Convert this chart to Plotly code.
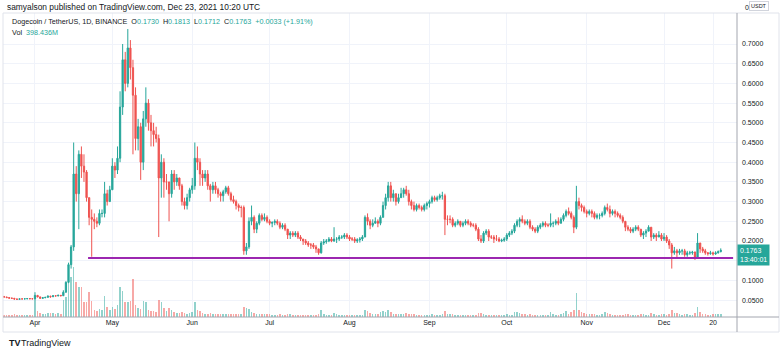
import pandas as pd
import plotly.graph_objects as go

# ---- Daily DOGE/USDT (Binance), 20 Mar 2021 - 23 Dec 2021 ----
first_open = 0.0593

close = [
    # Mar 20-31
    0.0578, 0.0563, 0.0550, 0.0545, 0.0527, 0.0520, 0.0531, 0.0530, 0.0533, 0.0538, 0.0534, 0.0533,
    # Apr
    0.0620, 0.0580, 0.0545, 0.0560, 0.0570, 0.0600, 0.0585, 0.0610, 0.0605, 0.0620,
    0.0610, 0.0700, 0.0950, 0.1400, 0.1850, 0.3700, 0.3200, 0.4200, 0.3900, 0.3750,
    0.3100, 0.2600, 0.2550, 0.2500, 0.2450, 0.2700, 0.2700, 0.3200, 0.3000, 0.3300,
    # May
    0.3900, 0.3800, 0.4100, 0.5400, 0.6600, 0.6000, 0.6900, 0.6400, 0.5700, 0.4600,
    0.4900, 0.4000, 0.5100, 0.5500, 0.5000, 0.4800, 0.4700, 0.4600, 0.3600, 0.4000,
    0.3500, 0.3500, 0.3200, 0.3700, 0.3500, 0.3600, 0.3400, 0.3000, 0.2900, 0.3100, 0.3300,
    # Jun
    0.3400, 0.4100, 0.4000, 0.3700, 0.3600, 0.3700, 0.3400, 0.3300, 0.3400, 0.3300,
    0.3200, 0.3150, 0.3250, 0.3350, 0.3200, 0.3050, 0.3000, 0.2900, 0.2850, 0.2850,
    0.1750, 0.1850, 0.2500, 0.2600, 0.2300, 0.2450, 0.2650, 0.2550, 0.2600, 0.2500,
    # Jul
    0.2450, 0.2470, 0.2500, 0.2450, 0.2350, 0.2400, 0.2300, 0.2150, 0.2200, 0.2150,
    0.2200, 0.2100, 0.2050, 0.2000, 0.1950, 0.1900, 0.1900, 0.1850, 0.1800, 0.1700,
    0.1950, 0.1980, 0.2000, 0.2050, 0.2000, 0.2050, 0.2050, 0.2100, 0.2100, 0.2150, 0.2100,
    # Aug
    0.2050, 0.2050, 0.2000, 0.2030, 0.2050, 0.2100, 0.2600, 0.2500, 0.2400, 0.2450,
    0.2500, 0.2450, 0.2600, 0.2900, 0.3100, 0.3400, 0.3100, 0.3200, 0.3000, 0.3100,
    0.3200, 0.3300, 0.3200, 0.3000, 0.2900, 0.2800, 0.2900, 0.2850, 0.2800, 0.2900, 0.2950,
    # Sep
    0.3000, 0.3100, 0.3050, 0.3100, 0.3150, 0.3150, 0.2550, 0.2550, 0.2550, 0.2400,
    0.2450, 0.2500, 0.2400, 0.2450, 0.2500, 0.2450, 0.2400, 0.2400, 0.2300, 0.2050,
    0.2000, 0.2200, 0.2250, 0.2100, 0.2100, 0.2050, 0.2050, 0.2000, 0.2020, 0.2050,
    # Oct
    0.2150, 0.2200, 0.2250, 0.2400, 0.2500, 0.2550, 0.2500, 0.2450, 0.2500, 0.2350,
    0.2300, 0.2250, 0.2350, 0.2400, 0.2450, 0.2400, 0.2400, 0.2450, 0.2450, 0.2500,
    0.2450, 0.2550, 0.2650, 0.2750, 0.2700, 0.2600, 0.2350, 0.3000, 0.2900, 0.2850, 0.2750,
    # Nov
    0.2700, 0.2750, 0.2700, 0.2600, 0.2650, 0.2650, 0.2700, 0.2850, 0.2800, 0.2700,
    0.2750, 0.2700, 0.2650, 0.2600, 0.2500, 0.2350, 0.2300, 0.2250, 0.2300, 0.2350,
    0.2300, 0.2150, 0.2200, 0.2250, 0.2350, 0.2100, 0.2150, 0.2100, 0.2150, 0.2050,
    # Dec 1-23
    0.2100, 0.2000, 0.1900, 0.1700, 0.1750, 0.1700, 0.1750, 0.1750, 0.1650, 0.1700,
    0.1700, 0.1720, 0.1580, 0.1950, 0.1800, 0.1750, 0.1700, 0.1680, 0.1700, 0.1670,
    0.1700, 0.1730, 0.1763,
]

high = [
    0.0600, 0.0585, 0.0570, 0.0560, 0.0555, 0.0535, 0.0540, 0.0540, 0.0545, 0.0550, 0.0545, 0.0540,
    0.0700, 0.0630, 0.0590, 0.0570, 0.0580, 0.0620, 0.0610, 0.0620, 0.0615, 0.0640,
    0.0630, 0.0750, 0.0980, 0.1450, 0.1900, 0.4500, 0.3900, 0.4300, 0.4400, 0.4200,
    0.3800, 0.3100, 0.2800, 0.2700, 0.2600, 0.2800, 0.2800, 0.3500, 0.3300, 0.3400,
    0.4100, 0.4000, 0.4400, 0.5800, 0.7000, 0.6800, 0.7380, 0.7100, 0.6600, 0.5900,
    0.5100, 0.5000, 0.5300, 0.5900, 0.5600, 0.5200, 0.5000, 0.4900, 0.4700, 0.4200,
    0.4100, 0.3700, 0.3500, 0.3800, 0.3800, 0.3700, 0.3600, 0.3450, 0.3100, 0.3200, 0.3350,
    0.3600, 0.4500, 0.4400, 0.4100, 0.3800, 0.3800, 0.3800, 0.3450, 0.3500, 0.3500,
    0.3350, 0.3250, 0.3300, 0.3400, 0.3400, 0.3250, 0.3150, 0.3050, 0.2950, 0.2900,
    0.2900, 0.1950, 0.2600, 0.2900, 0.2650, 0.2500, 0.2700, 0.2700, 0.2700, 0.2650,
    0.2550, 0.2500, 0.2550, 0.2550, 0.2500, 0.2450, 0.2450, 0.2300, 0.2250, 0.2250,
    0.2250, 0.2250, 0.2150, 0.2050, 0.2050, 0.2000, 0.1950, 0.1950, 0.1900, 0.1800,
    0.2000, 0.2050, 0.2050, 0.2100, 0.2100, 0.2350, 0.2100, 0.2150, 0.2150, 0.2200, 0.2200,
    0.2150, 0.2100, 0.2100, 0.2070, 0.2100, 0.2150, 0.2650, 0.2700, 0.2550, 0.2550,
    0.2600, 0.2550, 0.2650, 0.3000, 0.3200, 0.3500, 0.3500, 0.3300, 0.3200, 0.3200,
    0.3350, 0.3350, 0.3400, 0.3300, 0.3050, 0.3000, 0.2950, 0.2950, 0.2900, 0.2950, 0.3000,
    0.3050, 0.3150, 0.3150, 0.3150, 0.3200, 0.3250, 0.3200, 0.2650, 0.2650, 0.2600,
    0.2500, 0.2550, 0.2500, 0.2500, 0.2550, 0.2550, 0.2500, 0.2450, 0.2450, 0.2350,
    0.2150, 0.2250, 0.2300, 0.2300, 0.2150, 0.2150, 0.2150, 0.2100, 0.2060, 0.2100,
    0.2200, 0.2250, 0.2300, 0.2450, 0.2550, 0.2600, 0.2650, 0.2550, 0.2550, 0.2550,
    0.2400, 0.2350, 0.2400, 0.2450, 0.2500, 0.2500, 0.2450, 0.2700, 0.2500, 0.2550,
    0.2600, 0.2600, 0.2700, 0.2800, 0.2850, 0.2750, 0.2650, 0.3400, 0.3100, 0.2950, 0.2900,
    0.2800, 0.2800, 0.2800, 0.2750, 0.2700, 0.2700, 0.2750, 0.2900, 0.2950, 0.2900,
    0.2800, 0.2800, 0.2750, 0.2700, 0.2650, 0.2500, 0.2400, 0.2350, 0.2350, 0.2400,
    0.2400, 0.2300, 0.2250, 0.2300, 0.2400, 0.2350, 0.2200, 0.2200, 0.2250, 0.2200,
    0.2200, 0.2150, 0.2050, 0.1950, 0.1850, 0.1800, 0.1800, 0.1800, 0.1800, 0.1750,
    0.1750, 0.1750, 0.1730, 0.2200, 0.1950, 0.1850, 0.1800, 0.1720, 0.1750, 0.1730,
    0.1740, 0.1760, 0.1813,
]

low = [
    0.0560, 0.0555, 0.0540, 0.0530, 0.0510, 0.0505, 0.0515, 0.0520, 0.0522, 0.0525, 0.0525, 0.0525,
    0.0530, 0.0570, 0.0540, 0.0540, 0.0550, 0.0565, 0.0560, 0.0580, 0.0595, 0.0600,
    0.0600, 0.0605, 0.0690, 0.0930, 0.1300, 0.1750, 0.3000, 0.2300, 0.3600, 0.3500,
    0.3000, 0.2400, 0.1600, 0.2300, 0.2350, 0.2400, 0.2600, 0.2600, 0.2900, 0.3000,
    0.3300, 0.3600, 0.3700, 0.4000, 0.5200, 0.5800, 0.5900, 0.6100, 0.4200, 0.4300,
    0.4300, 0.3550, 0.3800, 0.4900, 0.4800, 0.4400, 0.4400, 0.4500, 0.2100, 0.3100,
    0.3100, 0.3300, 0.2500, 0.3100, 0.3300, 0.3400, 0.3300, 0.2900, 0.2800, 0.2800, 0.3000,
    0.3200, 0.3300, 0.3800, 0.3400, 0.3400, 0.3500, 0.3300, 0.3000, 0.3200, 0.3200,
    0.3100, 0.3000, 0.3000, 0.3200, 0.3150, 0.3000, 0.2950, 0.2800, 0.2750, 0.2600,
    0.1650, 0.1650, 0.1800, 0.2400, 0.2200, 0.2200, 0.2400, 0.2500, 0.2500, 0.2450,
    0.2400, 0.2350, 0.2400, 0.2400, 0.2300, 0.2300, 0.2250, 0.2050, 0.2050, 0.2100,
    0.2100, 0.2050, 0.2000, 0.1900, 0.1900, 0.1850, 0.1800, 0.1800, 0.1700, 0.1650,
    0.1680, 0.1900, 0.1930, 0.1970, 0.1970, 0.1980, 0.1950, 0.2000, 0.2050, 0.2050, 0.2050,
    0.2000, 0.2000, 0.1950, 0.1950, 0.1960, 0.2000, 0.2100, 0.2400, 0.2300, 0.2350,
    0.2450, 0.2350, 0.2400, 0.2600, 0.2800, 0.3000, 0.3000, 0.3000, 0.2900, 0.2950,
    0.3100, 0.3100, 0.3150, 0.2900, 0.2800, 0.2750, 0.2750, 0.2800, 0.2750, 0.2750, 0.2800,
    0.2850, 0.2950, 0.3000, 0.3000, 0.3050, 0.3050, 0.2150, 0.2400, 0.2450, 0.2350,
    0.2350, 0.2400, 0.2350, 0.2350, 0.2400, 0.2400, 0.2350, 0.2350, 0.2250, 0.2000,
    0.1950, 0.1950, 0.2150, 0.2000, 0.2050, 0.1950, 0.2000, 0.1970, 0.1970, 0.1980,
    0.2000, 0.2100, 0.2150, 0.2200, 0.2350, 0.2350, 0.2450, 0.2400, 0.2400, 0.2300,
    0.2250, 0.2200, 0.2200, 0.2300, 0.2350, 0.2350, 0.2350, 0.2350, 0.2350, 0.2400,
    0.2400, 0.2450, 0.2500, 0.2600, 0.2650, 0.2550, 0.2200, 0.2300, 0.2800, 0.2750, 0.2700,
    0.2600, 0.2650, 0.2600, 0.2550, 0.2550, 0.2550, 0.2600, 0.2650, 0.2750, 0.2600,
    0.2650, 0.2600, 0.2600, 0.2550, 0.2450, 0.2250, 0.2250, 0.2200, 0.2200, 0.2250,
    0.2250, 0.2100, 0.2050, 0.2100, 0.2250, 0.2000, 0.2050, 0.2000, 0.2100, 0.2000,
    0.2000, 0.1950, 0.1800, 0.1300, 0.1650, 0.1580, 0.1650, 0.1650, 0.1600, 0.1600,
    0.1650, 0.1650, 0.1520, 0.1550, 0.1700, 0.1700, 0.1650, 0.1630, 0.1650, 0.1630,
    0.1650, 0.1680, 0.1712,
]

# daily volume, millions of DOGE
volume = [
    320, 290, 300, 280, 380, 310, 260, 230, 250, 270, 260, 240,
    3000, 900, 600, 450, 520, 650, 600, 600, 450, 600,
    520, 2600, 3000, 5200, 6000, 7500, 5200, 4500, 4500, 2200,
    2200, 3700, 2400, 1050, 900, 1200, 1000, 3100, 1500, 1050,
    1500, 1200, 1800, 4500, 3900, 2250, 2250, 2400, 5700, 1800,
    1350, 1200, 2400, 2250, 1050, 900, 900, 750, 2550, 2250,
    1350, 900, 1350, 1050, 750, 600, 600, 750, 600, 450, 600,
    750, 2250, 1050, 900, 600, 450, 520, 600, 520, 450,
    450, 450, 450, 450, 380, 450, 380, 450, 450, 450,
    1500, 1350, 1200, 750, 600, 450, 450, 450, 450, 450,
    400, 350, 300, 300, 380, 350, 330, 420, 380, 300,
    280, 300, 320, 330, 350, 320, 280, 260, 320, 420,
    1000, 450, 350, 300, 300, 600, 400, 350, 320, 330, 300,
    300, 280, 300, 280, 300, 350, 1100, 900, 600, 500,
    450, 500, 700, 900, 800, 1000, 700, 500, 450, 400,
    450, 500, 550, 450, 400, 380, 350, 300, 300, 320, 300,
    350, 380, 350, 330, 350, 400, 900, 500, 400, 400,
    300, 300, 350, 300, 300, 280, 280, 260, 300, 600,
    550, 450, 350, 350, 300, 300, 280, 300, 280, 300,
    400, 350, 350, 700, 750, 650, 500, 400, 350, 400,
    350, 300, 350, 300, 300, 280, 280, 800, 400, 350,
    350, 500, 650, 900, 500, 700, 1000, 3600, 1100, 700, 600,
    500, 450, 400, 400, 350, 300, 400, 700, 600, 500,
    350, 350, 300, 300, 350, 450, 400, 350, 350, 330,
    300, 400, 380, 330, 350, 550, 400, 330, 350, 400,
    380, 350, 450, 1100, 600, 550, 400, 350, 450, 400,
    330, 300, 550, 1500, 700, 450, 400, 350, 330, 400,
    450, 420, 398.436,
]

# horizontal support line drawn on the chart
support_dates = ["2021-04-21 14:00", "2021-12-27 19:00"]
support_level = [0.157, 0.157]

# axis ticks
date_ticks = ["2021-04-01", "2021-05-01", "2021-06-01", "2021-07-01", "2021-08-01",
              "2021-09-01", "2021-10-01", "2021-11-01", "2021-12-01", "2021-12-20"]
date_tick_labels = ["Apr", "May", "Jun", "Jul", "Aug", "Sep", "Oct", "Nov", "Dec", "20"]
price_ticks = [0.05, 0.10, 0.15, 0.20, 0.25, 0.30, 0.35, 0.40, 0.45, 0.50, 0.55, 0.60, 0.65, 0.70]
price_tick_labels = ["0.0500", "0.1000", "", "0.2000", "0.2500", "0.3000", "0.3500", "0.4000",
                     "0.4500", "0.5000", "0.5500", "0.6000", "0.6500", "0.7000"]

# ---- derived series ----
dates = pd.date_range("2021-03-20", periods=len(close), freq="D")
opens = [first_open] + close[:-1]
highs = [max(h, o, c) for h, o, c in zip(high, opens, close)]
lows = [min(l, o, c) for l, o, c in zip(low, opens, close)]

UP, DOWN = "#26a69a", "#ef5350"
UP_VOL, DOWN_VOL = "rgba(38,166,154,0.5)", "rgba(239,83,80,0.5)"
vol_colors = [UP_VOL if c >= o else DOWN_VOL for o, c in zip(opens, close)]

# pane geometry in pixels
W, H = 780, 350
L, R, T, B = 3, 737, 13, 317


def fx(px):
    return (px - L) / (R - L)


def fy(py):
    return (B - py) / (B - T)


GRID = "#f0f3fa"
TEXT = "#131722"
AXISLINE = "#a3a6af"
FONT = "Liberation Sans, Arial, sans-serif"

fig = go.Figure()

fig.add_trace(go.Bar(
    x=dates, y=volume, marker=dict(color=vol_colors, line=dict(width=0)),
    width=0.6 * 86400000, yaxis="y", hoverinfo="skip", showlegend=False,
))

fig.add_trace(go.Candlestick(
    x=dates, open=opens, high=highs, low=lows, close=close, yaxis="y2",
    increasing=dict(line=dict(color=UP, width=1), fillcolor=UP),
    decreasing=dict(line=dict(color=DOWN, width=1), fillcolor=DOWN),
    whiskerwidth=0, hoverinfo="skip", showlegend=False,
))

fig.add_trace(go.Scatter(
    x=support_dates, y=support_level, yaxis="y2", mode="lines",
    line=dict(color="#9c27b0", width=2), hoverinfo="skip", showlegend=False,
))

fig.update_layout(
    width=W, height=H,
    margin=dict(l=L, r=W - R, t=T, b=H - B, pad=0),
    paper_bgcolor="white", plot_bgcolor="white",
    font=dict(family=FONT, color=TEXT),
    showlegend=False, bargap=0,
    xaxis=dict(
        type="date", range=["2021-03-19 14:10", "2021-12-29 07:12"],
        tickmode="array", tickvals=date_ticks, ticktext=date_tick_labels,
        showgrid=True, gridcolor=GRID, gridwidth=1, zeroline=False,
        showline=False, ticks="", tickfont=dict(size=7, color=TEXT),
        rangeslider=dict(visible=False), fixedrange=True,
    ),
    yaxis=dict(range=[0, 45600], visible=False, fixedrange=True),
    yaxis2=dict(
        overlaying="y", side="right", range=[0.0071, 0.7787],
        tickmode="array", tickvals=price_ticks, ticktext=price_tick_labels,
        showgrid=True, gridcolor=GRID, gridwidth=1, zeroline=False,
        showline=False, ticks="", tickfont=dict(size=7, color=TEXT),
        ticklabelstandoff=4, fixedrange=True,
    ),
)

# frame, pane bottom and price-scale separator
shapes = [
    dict(type="rect", xref="paper", yref="paper", x0=fx(3), x1=fx(779), y0=fy(332), y1=fy(13),
         line=dict(color="#e0e3eb", width=1)),
    dict(type="line", xref="paper", yref="paper", x0=fx(3), x1=fx(779), y0=fy(317), y1=fy(317),
         line=dict(color=AXISLINE, width=1)),
    dict(type="line", xref="paper", yref="paper", x0=fx(737), x1=fx(737), y0=fy(332), y1=fy(13),
         line=dict(color=AXISLINE, width=1)),
]
fig.update_layout(shapes=shapes)

# header texts, values taken from the last candle
o_last, h_last, l_last, c_last = opens[-1], highs[-1], lows[-1], close[-1]
chg = c_last - close[-2]
pct = chg / close[-2] * 100
nb = "\u00a0"


def val(s):
    return f"<span style='color:{UP}'>{s}</span>"


ohlc_line = (
    "Dogecoin / TetherUS, 1D, BINANCE" + nb * 2
    + "O" + val(f"{o_last:.4f}") + nb * 2
    + "H" + val(f"{h_last:.4f}") + nb * 2
    + "L" + val(f"{l_last:.4f}") + nb * 2
    + "C" + val(f"{c_last:.4f}") + nb * 2
    + val(f"{chg:+.4f} ({pct:+.2f}%)")
)
vol_line = "Vol" + nb * 2 + val(f"{volume[-1]:.3f}M")

ann = [
    dict(x=fx(5), y=fy(7), text="samyalson published on TradingView.com, Dec 23, 2021 10:20 UTC",
         font=dict(size=8.4, color=TEXT)),
    dict(x=fx(10), y=fy(22), text=ohlc_line, font=dict(size=7.2, color=TEXT)),
    dict(x=fx(10), y=fy(33), text=vol_line, font=dict(size=7.2, color=TEXT)),
    dict(x=fx(743), y=fy(7), text="0", font=dict(size=7, color=TEXT)),
    dict(x=fx(749), y=fy(6), text="USDT", font=dict(size=5.5, color=TEXT),
         bordercolor="#d1d4dc", borderwidth=1, borderpad=1, bgcolor="white"),
    dict(x=fx(7), y=fy(343), text="<b>TV</b>", font=dict(size=9, color=TEXT)),
    dict(x=fx(19), y=fy(343), text="TradingView", font=dict(size=9, color=TEXT)),
]
annotations = []
for a in ann:
    base = dict(xref="paper", yref="paper", xanchor="left", yanchor="middle",
                showarrow=False, align="left")
    base.update(a)
    annotations.append(base)

# last-price tag on the price scale
annotations.append(dict(
    xref="paper", yref="y2", x=fx(737), y=c_last, xanchor="left", yanchor="top", yshift=6,
    text=f"{c_last:.4f}<br>13:40:01", showarrow=False, align="left",
    bgcolor=UP, borderpad=2, font=dict(size=7, color="white"),
))
fig.update_layout(annotations=annotations)

fig.write_html("out.html", config={"displayModeBar": False})
